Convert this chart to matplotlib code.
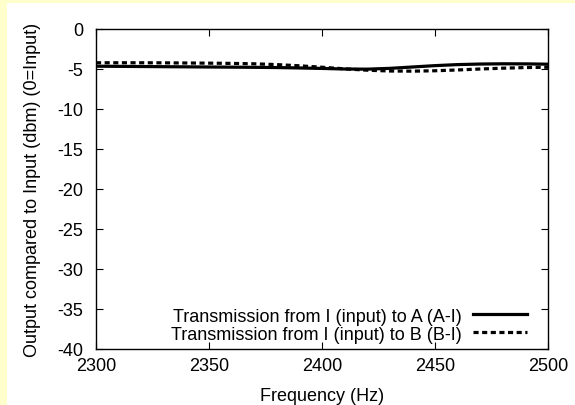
import matplotlib
matplotlib.use('Agg')
import matplotlib.pyplot as plt
from matplotlib.patches import Rectangle
import numpy as np

plt.rcParams['font.family'] = ['Liberation Sans', 'DejaVu Sans']
plt.rcParams['axes.unicode_minus'] = False

# readings, every 10 Hz
freq = [2300, 2310, 2320, 2330, 2340, 2350, 2360, 2370, 2380, 2390, 2400,
        2410, 2420, 2430, 2440, 2450, 2460, 2470, 2480, 2490, 2500]
a_i = [-4.65, -4.67, -4.69, -4.71, -4.73, -4.75, -4.77, -4.79, -4.82, -4.87, -4.93,
       -5.00, -5.02, -4.92, -4.75, -4.58, -4.45, -4.38, -4.35, -4.36, -4.40]
b_i = [-4.22, -4.22, -4.22, -4.23, -4.25, -4.27, -4.30, -4.35, -4.45, -4.60, -4.78,
       -4.98, -5.15, -5.25, -5.27, -5.22, -5.12, -5.00, -4.90, -4.82, -4.78]
label_a = 'Transmission from I (input) to A (A-I)'
label_b = 'Transmission from I (input) to B (B-I)'
xticks = [2300, 2350, 2400, 2450, 2500]
yticks = [0, -5, -10, -15, -20, -25, -30, -35, -40]

fs = 13

fig = plt.figure(figsize=(5.75, 4.06), dpi=100)
fig.patch.set_facecolor('#ffffcc')
# white page with the yellow strip on the left and top
fig.patches.append(Rectangle((7 / 575., 0), 1, 1 - 4 / 406., transform=fig.transFigure,
                             facecolor='white', edgecolor='none', zorder=-1))

ax = fig.add_axes([96 / 575., 56 / 406., 452 / 575., 320 / 406.])
ax.plot(freq, a_i, color='black', lw=2.3, label=label_a)
ax.plot(freq, b_i, color='black', lw=2.3, linestyle=(0, (1.6, 1.1)), label=label_b)

ax.set_xlim(2300, 2500)
ax.set_ylim(-40, 0)
ax.set_xticks(xticks)
ax.set_yticks(yticks)
ax.tick_params(direction='in', top=True, right=True, length=5, width=0.8, labelsize=fs)
ax.tick_params(axis='y', pad=9)
ax.tick_params(axis='x', pad=6)
for s in ax.spines.values():
    s.set_linewidth(1.0)

ax.set_xlabel('Frequency (Hz)', fontsize=fs, labelpad=9)
ax.set_ylabel('Output compared to Input (dbm) (0=Input)', fontsize=fs, labelpad=12)

ax.legend(loc='lower right', bbox_to_anchor=(0.954, 0.02), frameon=False, markerfirst=False,
          fontsize=fs, borderpad=0, handlelength=3.0, handletextpad=0.6, labelspacing=0.05,
          borderaxespad=0)

fig.savefig('out.png', dpi=100, facecolor=fig.get_facecolor())
